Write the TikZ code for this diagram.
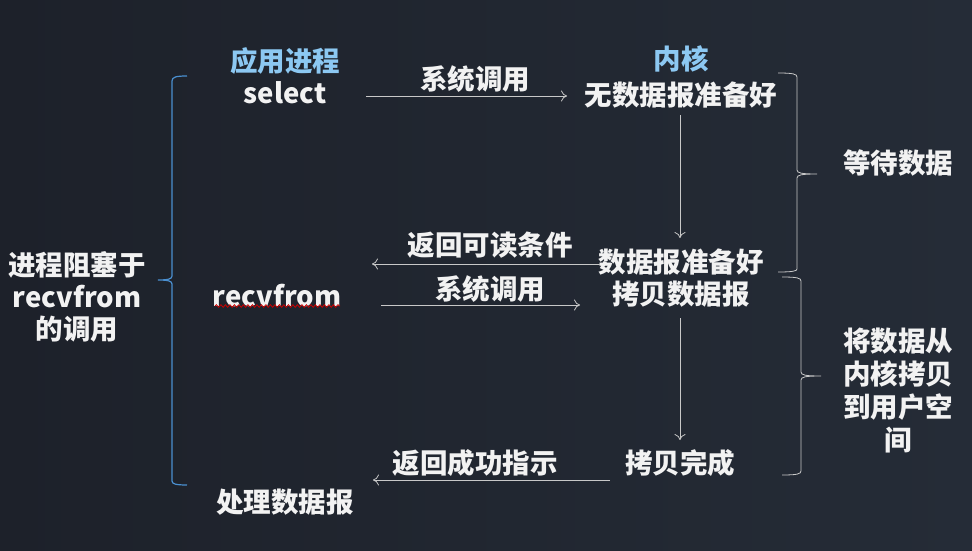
\documentclass[tikz,border=0pt]{standalone}
\usepackage{fontspec}
\setmainfont{Noto Sans CJK SC}
\usetikzlibrary{decorations.pathmorphing,arrows.meta}
\definecolor{bgl}{HTML}{1D212A}
\definecolor{bgr}{HTML}{252C37}
\definecolor{txt}{HTML}{F2F2F2}
\definecolor{hl}{HTML}{8CC8F2}
\definecolor{ln}{HTML}{C8C8C8}
\definecolor{brb}{HTML}{4A8FD0}
\begin{document}
\begin{tikzpicture}[x=1pt,y=-1pt,
  lbl/.style={text=txt,font=\fontsize{27.5}{32}\selectfont\bfseries,inner sep=0pt,align=center},
  hlbl/.style={lbl,text=hl},
  conn/.style={draw=ln,line width=0.8pt,-{To[length=6pt,width=11pt]}},
  brace/.style={draw=ln,line width=0.8pt},
  lbrace/.style={draw=brb,line width=1.2pt}]
\shade[left color=bgl,right color=bgr] (0,0) rectangle (972,551);
\useasboundingbox (0,0) rectangle (972,551);
% left column
\node[hlbl] (app) at (285,61) {应用进程};
\node[lbl] (sel) at (285,93) {select};
\node[lbl] (recv) at (277,296) {recvfrom};
\node[lbl] (proc) at (285,502) {处理数据报};
% kernel column
\node[hlbl] (kern) at (681,59) {内核};
\node[lbl] (nodata) at (681,95) {无数据报准备好};
\node[lbl] (ready) at (681,262) {数据报准备好};
\node[lbl] (copy) at (681,294) {拷贝数据报};
\node[lbl] (done) at (680,463) {拷贝完成};
% connectors
\coordinate (a1s) at (366,96); \coordinate (a1e) at (567,96);
\draw[conn] (a1s) -- (a1e);
\node[lbl] (l1) at (475,79) {系统调用};
\coordinate (v1s) at (680,115); \coordinate (v1e) at (680,238);
\draw[conn] (v1s) -- (v1e);
\coordinate (a2s) at (600,264); \coordinate (a2e) at (372,264);
\draw[conn] (a2s) -- (a2e);
\node[lbl] (l2) at (490,245) {返回可读条件};
\coordinate (a3s) at (381,305); \coordinate (a3e) at (580,305);
\draw[conn] (a3s) -- (a3e);
\node[lbl] (l3) at (490,289) {系统调用};
\coordinate (v2s) at (680,318); \coordinate (v2e) at (680,440);
\draw[conn] (v2s) -- (v2e);
\coordinate (a4s) at (610,480); \coordinate (a4e) at (373,480);
\draw[conn] (a4s) -- (a4e);
\node[lbl] (l4) at (475,463) {返回成功指示};
% red squiggle under recvfrom
\draw[red!80!black,line width=0.8pt,decorate,decoration={snake,amplitude=1.3pt,segment length=4.5pt}] (215,306) -- (340,306);
% left brace
\draw[lbrace] (187,76) .. controls (176,76) and (172,77) .. (172,81) -- (172,276) .. controls (172,279) and (168,280) .. (158,280)
  (158,280) .. controls (168,280) and (172,281) .. (172,284) -- (172,481) .. controls (172,484) and (176,485) .. (187,485);
\node[lbl] (block) at (77,297) {进程阻塞于\\recvfrom\\的调用};
% right braces
\draw[brace] (778,73) .. controls (793,73) and (797,74) .. (797,77) -- (797,170) .. controls (797,173) and (801,174) .. (817,174)
  (817,174) .. controls (801,174) and (797,175) .. (797,178) -- (797,269) .. controls (797,271) and (793,272) .. (778,272);
\node[lbl] (wait) at (898,163) {等待数据};
\draw[brace] (782,277) .. controls (797,277) and (801,278) .. (801,281) -- (801,372) .. controls (801,375) and (805,376) .. (821,376)
  (821,376) .. controls (805,376) and (801,377) .. (801,380) -- (801,471) .. controls (801,474) and (797,475) .. (782,475);
\node[lbl,font=\fontsize{27.5}{33}\selectfont\bfseries] (copyk) at (898,391) {将数据从\\内核拷贝\\到用户空\\间};
\end{tikzpicture}
\end{document}
